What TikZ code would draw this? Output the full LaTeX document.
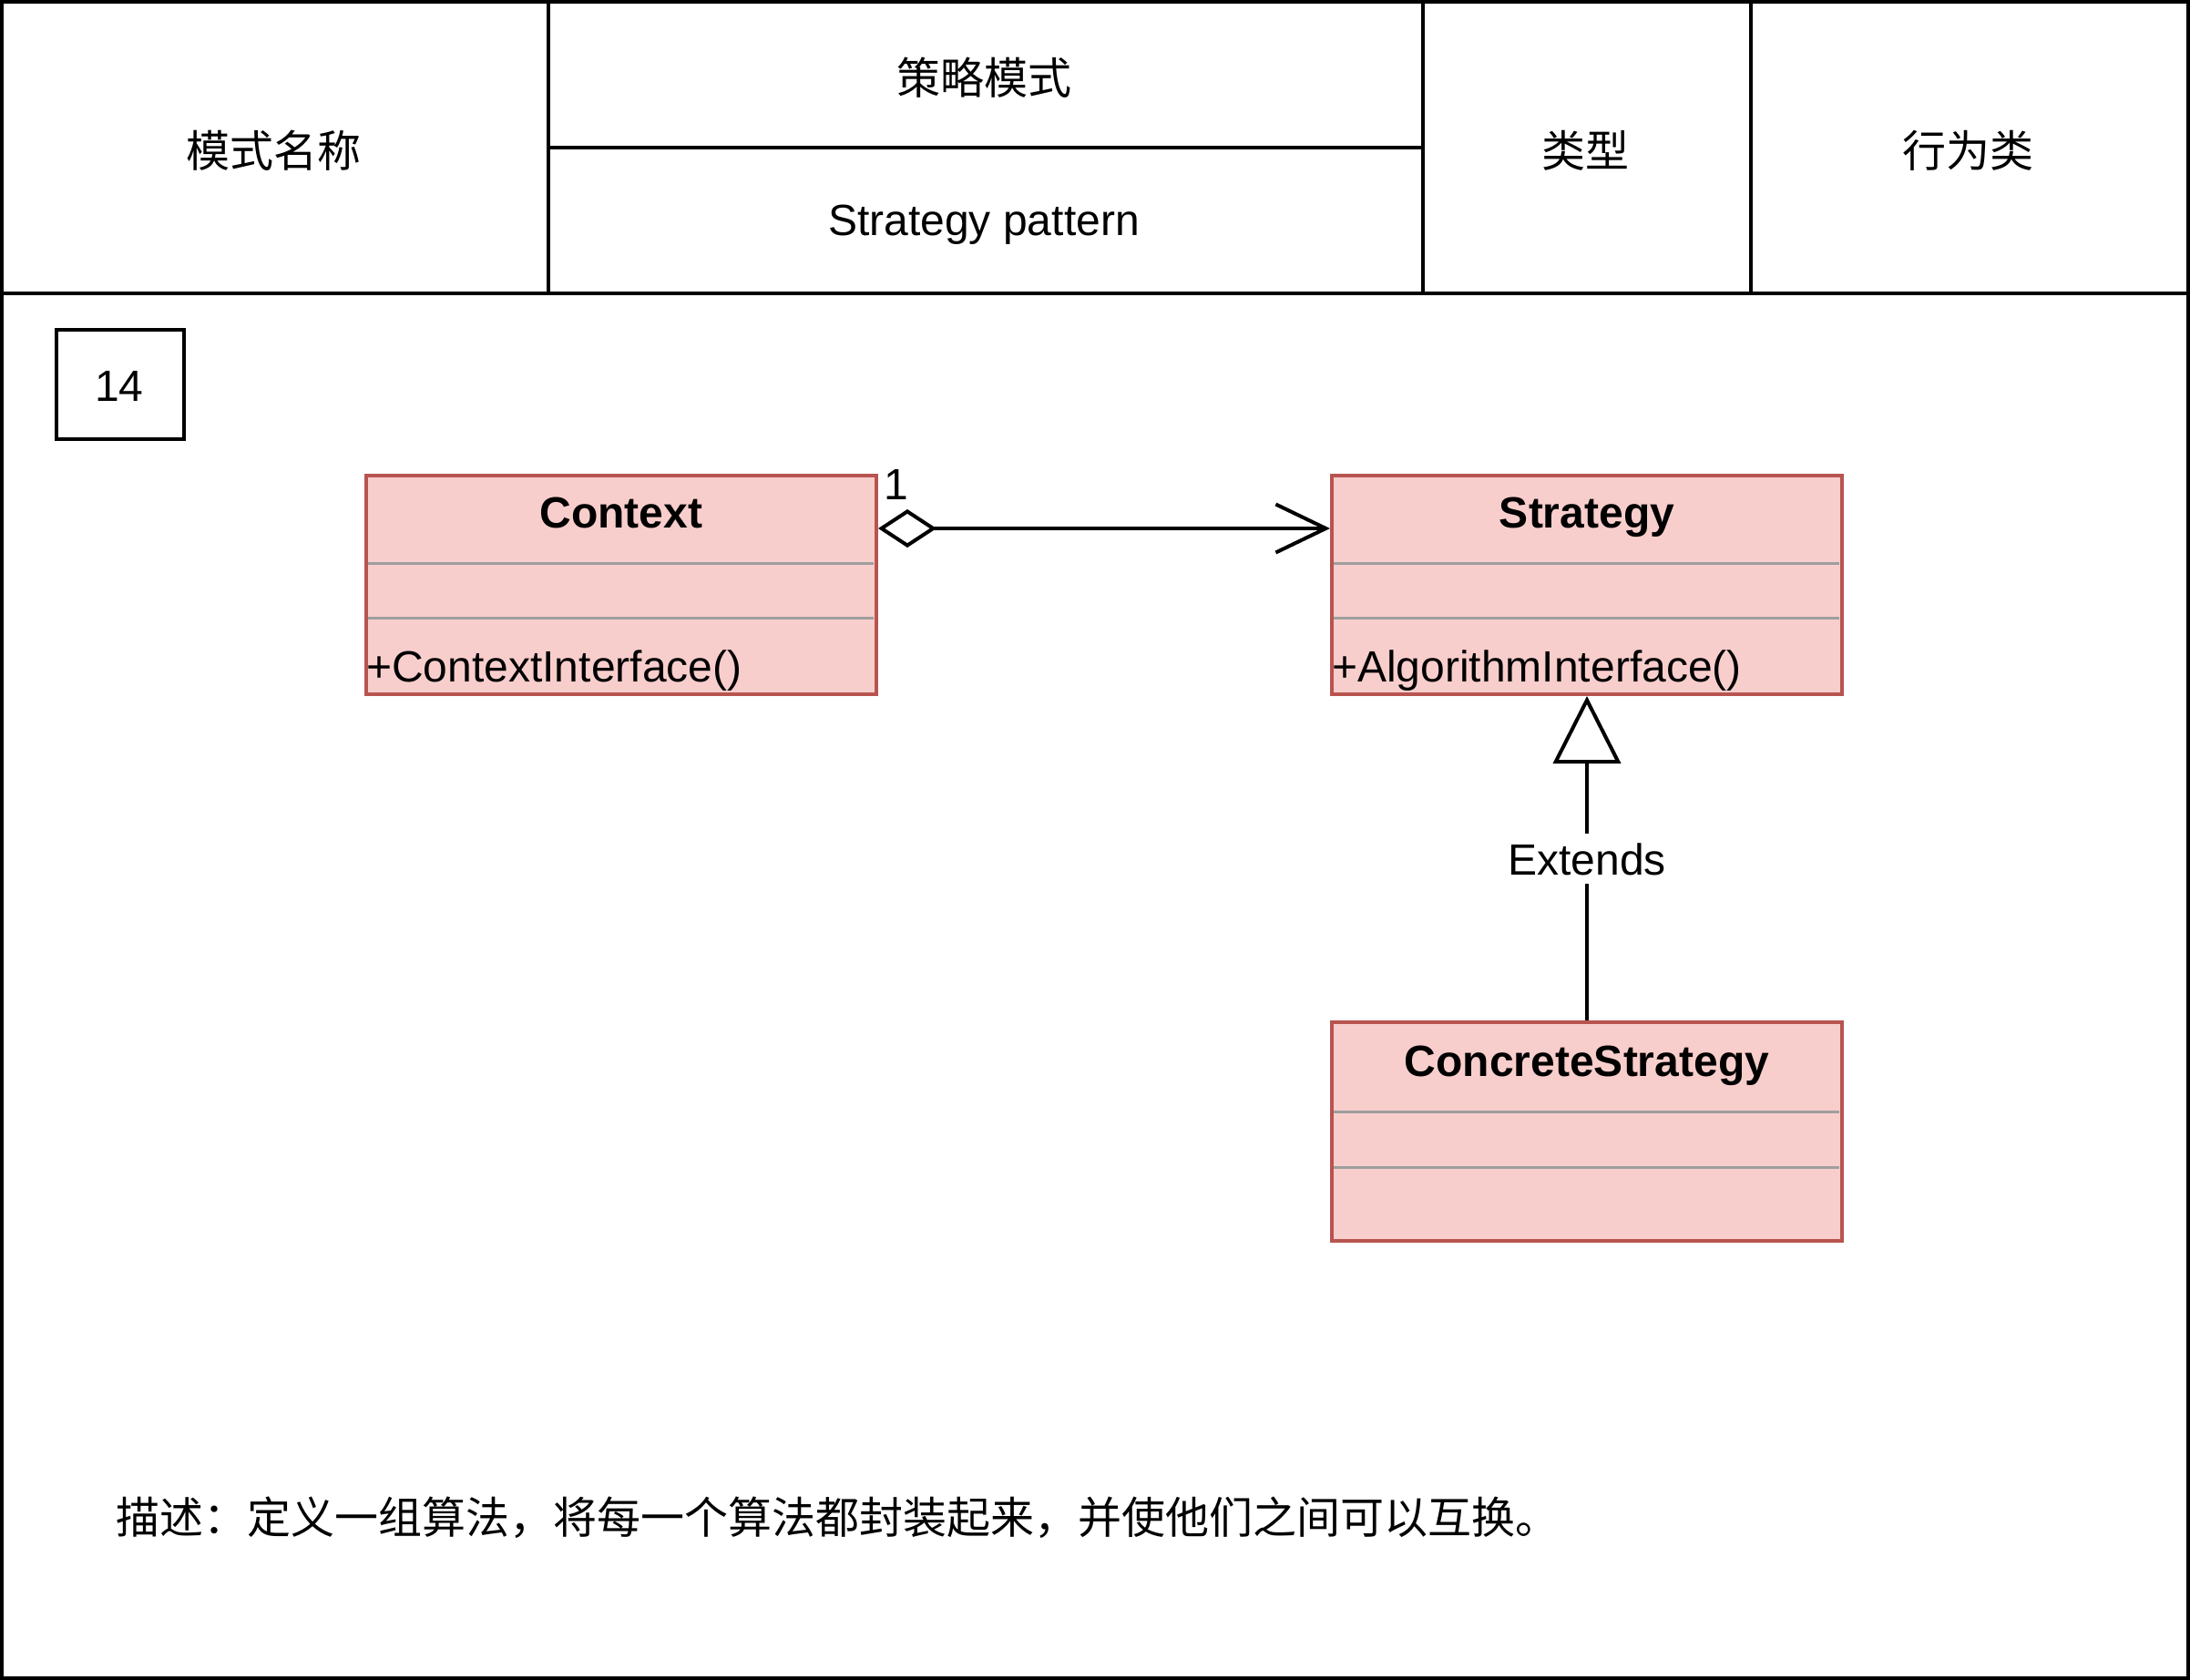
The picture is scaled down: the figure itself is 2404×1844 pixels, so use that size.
\documentclass[tikz,border=0pt]{standalone}
\usepackage{fontspec}
\setmainfont{Liberation Sans}
\newfontfamily\cjk{Noto Sans CJK SC}
\usetikzlibrary{arrows.meta,calc}
\definecolor{clsfill}{HTML}{F8CECC}
\definecolor{clsline}{HTML}{B85450}
\definecolor{divgray}{HTML}{9E9E9E}
\tikzset{
  big/.style={font=\fontsize{48}{57}\selectfont},
  bigbold/.style={font=\fontsize{48}{57}\selectfont\bfseries},
  cell/.style={draw=black,line width=4pt,inner sep=0pt,big},
  clsbox/.style={draw=clsline,fill=clsfill,line width=4pt,inner sep=0pt,minimum width=560pt,minimum height=240pt},
  divider/.style={draw=divgray,line width=3pt},
  conn/.style={draw=black,line width=4pt},
  lbl/.style={big,anchor=base,inner sep=0pt},
}
\begin{document}
\begin{tikzpicture}[x=1pt,y=-1pt]
\useasboundingbox (0,0) rectangle (2404,1844);
% outer frame
\node[draw=black,line width=4pt,inner sep=0pt,minimum width=2400pt,minimum height=1840pt] (frame) at (1202,922) {};
% header cells
\node[cell,minimum width=600pt,minimum height=320pt] (namecell) at (302,162) {};
\node[cell,minimum width=960pt,minimum height=160pt] (cncell) at (1082,82) {};
\node[cell,minimum width=960pt,minimum height=160pt] (encell) at (1082,242) {};
\node[cell,minimum width=360pt,minimum height=320pt] (typecell) at (1742,162) {};
\node[cell,minimum width=480pt,minimum height=320pt] (behcell) at (2162,162) {};
\node[big,inner sep=0pt] (nametxt) at (300,165) {\cjk 模式名称};
\node[big,inner sep=0pt] (cntxt) at (1080,85) {\cjk 策略模式};
\node[lbl] (entxt) at (1080,258) {Strategy pattern};
\node[big,inner sep=0pt] (typetxt) at (1740,165) {\cjk 类型};
\node[big,inner sep=0pt] (behtxt) at (2160,165) {\cjk 行为类};
% number box
\node[draw=black,line width=4pt,inner sep=0pt,minimum width=140pt,minimum height=120pt] (num) at (132,422) {};
\node[lbl] (numtxt) at (131,440) {14};
% classes
\node[clsbox] (ctx) at (682,642) {};
\node[clsbox] (str) at (1742,642) {};
\node[clsbox] (con) at (1742,1242) {};
% Context contents
\node[lbl,bigbold] (ctxt) at (682,579) {Context};
\draw[divider] (404,618) -- (959,618);
\draw[divider] (1464,618) -- (2019,618);
\draw[divider] (404,678) -- (959,678);
\draw[divider] (1464,678) -- (2019,678);
\node[big,anchor=base west,inner sep=0pt] (ctxm) at (402,748) {+ContextInterface()};
% Strategy contents
\node[lbl,bigbold] (strt) at (1742,579) {Strategy};
\node[big,anchor=base west,inner sep=0pt] (strm) at (1462,748) {+AlgorithmInterface()};
% ConcreteStrategy contents
\node[lbl,bigbold] (cont) at (1742,1181) {ConcreteStrategy};
\draw[divider] (1464,1220) -- (2019,1220);
\draw[divider] (1464,1281) -- (2019,1281);
% aggregation
\coordinate (aggA) at ($(ctx.north east)+(0,60)$);
\coordinate (aggB) at ($(str.north west)+(0,60)$);
\draw[conn,{Diamond[open,length=64pt,width=42pt,line width=4pt]}-{Straight Barb[length=55pt,width=53pt,line width=4pt]}] (aggA) -- (aggB);
\node[big,anchor=base west,inner sep=0pt] (mult) at (970,548) {1};
% generalization
\draw[conn,-{Triangle[open,length=74pt,width=74pt,line width=4pt]}] (con.north) -- (str.south);
\node[lbl,fill=white,inner ysep=10pt,inner xsep=2pt] (ext) at (1742,960) {Extends};
% description
\node[big,anchor=west,inner sep=0pt] (desc) at (127,1666) {\cjk 描述：定义一组算法，将每一个算法都封装起来，并使他们之间可以互换。};
\end{tikzpicture}
\end{document}
